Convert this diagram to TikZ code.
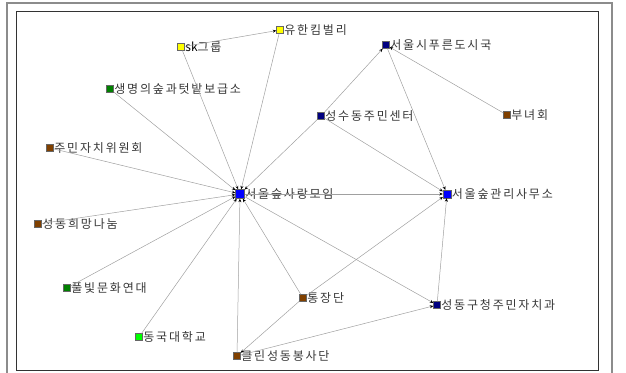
\documentclass[tikz,border=0pt]{standalone}
\usepackage{fontspec}
\newfontfamily\kr[LetterSpace=15]{Noto Sans CJK KR}
\newfontfamily\krl{Noto Sans CJK KR}
\usetikzlibrary{arrows.meta}
\definecolor{navyc}{RGB}{0,0,128}
\definecolor{brownc}{RGB}{128,64,0}
\definecolor{greenc}{RGB}{0,128,0}
\definecolor{limec}{RGB}{0,255,0}
\definecolor{bluec}{RGB}{0,0,255}
\definecolor{yellowc}{RGB}{255,255,0}
\definecolor{edgec}{RGB}{160,160,160}
\definecolor{textc}{RGB}{55,55,55}
\tikzset{
  sqr/.style={draw=black!60, line width=0.4pt, minimum size=7pt, inner sep=0pt,
    label={[text=textc, font=\kr\fontsize{12}{12}\selectfont, inner sep=0.5pt]east:#1}},
  edge/.style={draw=edgec, line width=0.5pt},
  arr/.style={edge, -{Stealth[length=3.5pt, width=3pt, black]}}
}
\begin{document}
\begin{tikzpicture}[x=1pt, y=-1pt]
\useasboundingbox (0,0) rectangle (626,372);
\draw[black!45, line width=1.5pt] (7,3) rectangle (612,375);
\draw[black!80, line width=0.8pt] (16,11) rectangle (598,370);
\node[sqr=유한킴벌리, fill=yellowc] (yuhan) at (280,30) {};
\node[sqr={{\krl\color{black}sk}그룹}, fill=yellowc] (sk) at (181,47) {};
\node[sqr=서울시푸른도시국, fill=navyc] (city) at (386,45) {};
\node[sqr=생명의숲과텃밭보급소, fill=greenc] (life) at (110,89) {};
\node[sqr=성수동주민센터, fill=navyc] (center) at (321,116) {};
\node[sqr=부녀회, fill=brownc] (women) at (507,115) {};
\node[sqr=주민자치위원회, fill=brownc] (committee) at (50,148) {};
\node[sqr=서울숲사랑모임, fill=bluec, minimum size=9pt] (love) at (240,194) {};
\node[sqr=서울숲관리사무소, fill=bluec, minimum size=8pt] (office) at (447,194) {};
\node[sqr=성동희망나눔, fill=brownc] (hope) at (38,224) {};
\node[sqr=풀빛문화연대, fill=greenc] (culture) at (67,288) {};
\node[sqr=통장단, fill=brownc] (tongjang) at (303,298) {};
\node[sqr=성동구청주민자치과, fill=navyc] (gu) at (437,305) {};
\node[sqr=동국대학교, fill=limec] (dongguk) at (139,337) {};
\node[sqr=클린성동봉사단, fill=brownc] (clean) at (237,356) {};
\draw[arr] (sk) -- (yuhan);
\draw[arr] (sk) -- (love);
\draw[arr] (yuhan) -- (love);
\draw[arr] (life) -- (love);
\draw[arr] (committee) -- (love);
\draw[arr] (hope) -- (love);
\draw[arr] (culture) -- (love);
\draw[arr] (dongguk) -- (love);
\draw[arr] (clean) -- (love);
\draw[arr] (tongjang) -- (love);
\draw[arr] (center) -- (love);
\draw[arr] (love) -- (office);
\draw[arr] (love) -- (gu);
\draw[arr] (center) -- (city);
\draw[arr] (center) -- (office);
\draw[arr] (city) -- (office);
\draw[arr] (women) -- (city);
\draw[arr] (tongjang) -- (office);
\draw[arr] (tongjang) -- (clean);
\draw[arr] (clean) -- (gu);
\draw[arr] (gu) -- (office);
\end{tikzpicture}
\end{document}
